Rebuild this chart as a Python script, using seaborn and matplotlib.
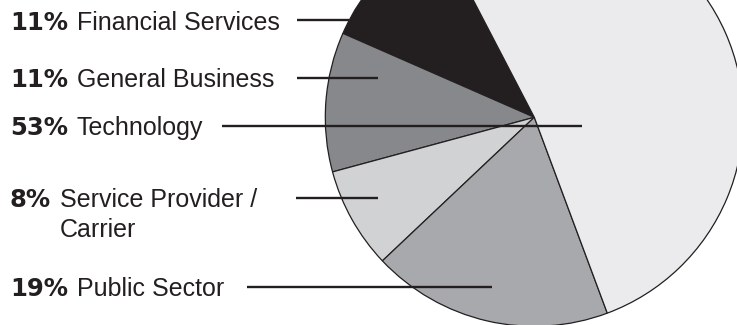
import matplotlib
matplotlib.use("Agg")
import matplotlib.pyplot as plt
import seaborn as sns

# ---- data ----
categories = ["Financial Services", "General Business", "Service Provider /\nCarrier",
              "Public Sector", "Technology"]
percents = [11, 11, 8, 19, 53]
colors = ["#231f20", "#87888b", "#d1d2d4", "#a8a9ac", "#ebebed"]

# label layout (pixel coords from top)
label_order = ["Financial Services", "General Business", "Technology",
               "Service Provider /\nCarrier", "Public Sector"]
label_baselines = [30.5, 87.3, 135.0, 206.7, 296.0]
line_y = [20.0, 77.7, 126.0, 197.7, 286.7]
line_x0 = [296.7, 296.7, 222.3, 295.7, 247.3]
line_x1 = [349.0, 378.0, 581.7, 378.0, 491.7]

W, H = 737, 325
sns.set_theme(style="white")
plt.rcParams["font.family"] = ["Liberation Sans", "DejaVu Sans"]

fig = plt.figure(figsize=(W / 100, H / 100), dpi=100)
ax = fig.add_axes([0, 0, 1, 1])
ink = "#231f20"

ax.pie(percents, colors=colors, startangle=117.5, counterclock=True,
       center=(534.3, H - 117.3), radius=209,
       wedgeprops=dict(edgecolor=ink, linewidth=0.9))

ax.set_xlim(0, W)
ax.set_ylim(0, H)
ax.set_aspect("auto")
ax.axis("off")

fig.canvas.draw()
renderer = fig.canvas.get_renderer()
pct_map = dict(zip(categories, percents))
for name, yb, ly, x0, x1 in zip(label_order, label_baselines, line_y, line_x0, line_x1):
    t = ax.text(10, H - yb, f"{pct_map[name]}%", fontsize=17.5, fontweight="bold",
                family=["DejaVu Sans"], color=ink, ha="left", va="baseline")
    bb = t.get_window_extent(renderer=renderer)
    xl = bb.x1 + 9
    lines = name.split("\n")
    for i, ln in enumerate(lines):
        ax.text(xl, H - yb - i * 30.6, ln, fontsize=18, color=ink,
                ha="left", va="baseline")
    ax.plot([x0, x1], [H - ly, H - ly], color=ink, lw=1.7, solid_capstyle="butt")

fig.savefig("out.png", dpi=100)
